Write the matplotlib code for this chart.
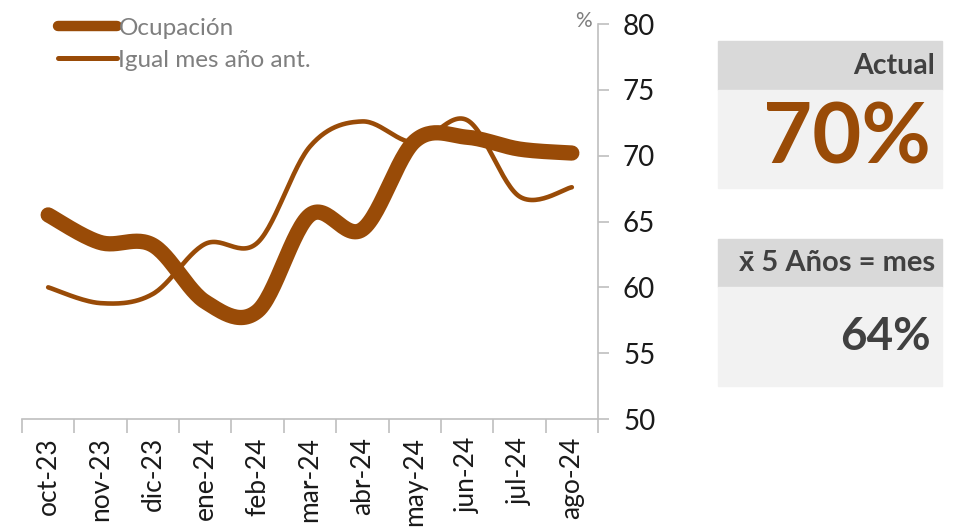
import matplotlib.pyplot as plt
import numpy as np
from matplotlib.patches import Rectangle
from matplotlib.lines import Line2D

# monthly occupancy, %
months = ["oct-23", "nov-23", "dic-23", "ene-24", "feb-24", "mar-24",
          "abr-24", "may-24", "jun-24", "jul-24", "ago-24"]
ocupacion = [65.5, 63.4, 63.2, 58.9, 58.2, 65.5, 64.4, 71.1, 71.4, 70.5, 70.2]
igual_mes = [60.0, 58.8, 59.5, 63.3, 63.4, 70.7, 72.6, 71.0, 72.7, 66.9, 67.6]

actual_txt = "70%"
media_txt = "64%"

brown = "#994B07"
grey_axis = "#BFBFBF"

plt.rcParams["font.family"] = ["Lato", "DejaVu Sans"]


def smooth(y, n=30):
    # Excel-style smoothed line (Bezier through every point)
    x = np.arange(len(y), dtype=float)
    y = np.asarray(y, dtype=float)
    xs, ys = [], []
    for i in range(len(y) - 1):
        p0 = np.array([x[max(i - 1, 0)], y[max(i - 1, 0)]])
        p1 = np.array([x[i], y[i]])
        p2 = np.array([x[i + 1], y[i + 1]])
        p3 = np.array([x[min(i + 2, len(y) - 1)], y[min(i + 2, len(y) - 1)]])
        c1 = p1 + (p2 - p0) / 6
        c2 = p2 - (p3 - p1) / 6
        t = np.linspace(0, 1, n)[:, None]
        pts = ((1 - t) ** 3) * p1 + 3 * ((1 - t) ** 2) * t * c1 + 3 * (1 - t) * t ** 2 * c2 + t ** 3 * p2
        xs.extend(pts[:, 0])
        ys.extend(pts[:, 1])
    return np.array(xs), np.array(ys)


W, H = 960, 531
fig = plt.figure(figsize=(W / 100, H / 100), dpi=100)

ax = fig.add_axes([22 / W, 1 - 419 / H, 576 / W, 395 / H])
x1, y1 = smooth(igual_mes)
x2, y2 = smooth(ocupacion)
ax.plot(x1, y1, color=brown, lw=3.3, solid_capstyle="round")
ax.plot(x2, y2, color=brown, lw=11, solid_capstyle="round")

ax.set_xlim(-0.5, len(months) - 0.5)
ax.set_ylim(50, 80)
ax.set_yticks(range(50, 81, 5))
ax.yaxis.tick_right()
ax.tick_params(axis="y", direction="out", length=8, width=1.2, color=grey_axis,
               labelsize=20, labelcolor="#1a1a1a", pad=10)

ax.set_xticks(range(len(months)))
ax.set_xticklabels(months, rotation=90)
ax.set_xticks(np.arange(-0.5, len(months)), minor=True)
ax.tick_params(axis="x", which="major", length=0, labelsize=19, labelcolor="#1a1a1a", pad=13)
ax.tick_params(axis="x", which="minor", direction="out", length=10, width=1.2, color=grey_axis)

for s in ["top", "left"]:
    ax.spines[s].set_visible(False)
ax.spines["right"].set_color(grey_axis)
ax.spines["bottom"].set_color(grey_axis)
ax.spines["right"].set_linewidth(1.2)
ax.spines["bottom"].set_linewidth(1.2)

fig.text(583 / W, 1 - 21 / H, "%", fontsize=15, color="#7F7F7F", ha="center", va="center")

h1 = Line2D([], [], color=brown, lw=7.5, solid_capstyle="round")
h2 = Line2D([], [], color=brown, lw=3.6, solid_capstyle="round")
leg = ax.legend([h1, h2], ["Ocupación", "Igual mes año ant."], loc="upper left",
                bbox_to_anchor=(0.045, 1.04), frameon=False, fontsize=17.5,
                handlelength=2.45, handletextpad=0.05, labelspacing=0.45, borderaxespad=0)
for t in leg.get_texts():
    t.set_color("#7F7F7F")


def box(y0, y1, y2, head, hsize, value, vsize, vcolor):
    fx = 718 / W
    fw = (942 - 718) / W
    fig.patches.append(Rectangle((fx, 1 - y1 / H), fw, (y1 - y0) / H,
                                 transform=fig.transFigure, color="#D9D9D9", zorder=0))
    fig.patches.append(Rectangle((fx, 1 - y2 / H), fw, (y2 - y1) / H,
                                 transform=fig.transFigure, color="#F2F2F2", zorder=0))
    fig.text(935 / W, 1 - (y0 + y1) / 2 / H, head, fontsize=hsize, fontweight="bold",
             color="#404040", ha="right", va="center")
    fig.text(931 / W, 1 - (y1 + y2) / 2 / H, value, fontsize=vsize, fontweight="bold",
             color=vcolor, ha="right", va="center")


box(41, 90, 188, "Actual", 20.5, actual_txt, 61, brown)
box(239, 287, 386, "x\u0304 5 Años = mes", 21, media_txt, 33, "#404040")

fig.savefig("out.png", dpi=100)
